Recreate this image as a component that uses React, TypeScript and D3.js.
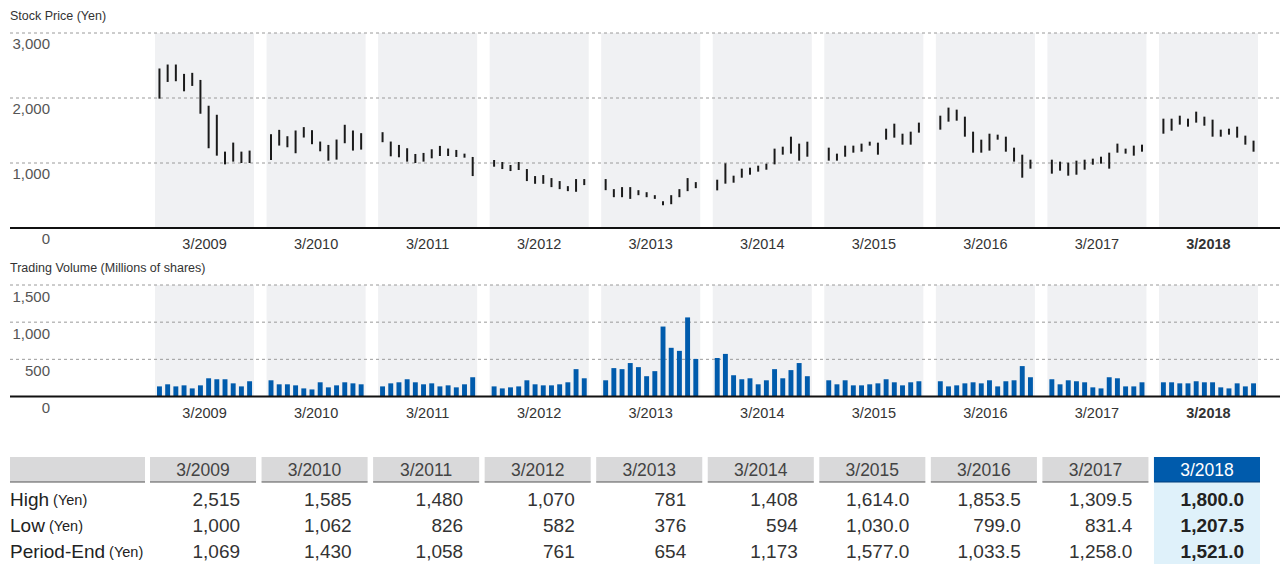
import React from "react";
import * as d3 from "d3";

const years = ["3/2009", "3/2010", "3/2011", "3/2012", "3/2013", "3/2014", "3/2015", "3/2016", "3/2017", "3/2018"];
const months = d3.range(12);

// Monthly high / low stock price (Yen), 12 per fiscal year
const priceHigh = [
  [2454, 2515, 2515, 2371, 2387, 2278, 1881, 1742, 1175, 1314, 1175, 1191],
  [1443, 1510, 1412, 1500, 1552, 1505, 1330, 1278, 1361, 1588, 1500, 1459],
  [1474, 1330, 1278, 1227, 1139, 1155, 1211, 1263, 1222, 1201, 1144, 1093],
  [1046, 1015, 969, 1015, 907, 799, 814, 768, 722, 644, 753, 753],
  [753, 598, 629, 629, 582, 551, 505, 412, 505, 598, 768, 706],
  [743, 995, 805, 913, 928, 959, 990, 1221, 1251, 1405, 1298, 1328],
  [1236, 1144, 1267, 1267, 1298, 1328, 1313, 1528, 1605, 1451, 1482, 1621],
  [1728, 1852, 1821, 1713, 1482, 1359, 1451, 1436, 1405, 1236, 1128, 1051],
  [1051, 1021, 1005, 1036, 1051, 1067, 1097, 1159, 1298, 1221, 1267, 1282],
  [1682, 1682, 1728, 1682, 1790, 1713, 1667, 1513, 1528, 1559, 1421, 1344],
];
const priceLow = [
  [1990, 2247, 2258, 2103, 2186, 1758, 1227, 1113, 979, 1021, 1000, 1000],
  [1046, 1268, 1242, 1150, 1392, 1289, 1180, 1036, 1052, 1304, 1191, 1206],
  [1320, 1103, 1088, 1021, 1000, 1021, 1072, 1108, 1108, 1093, 1082, 799],
  [943, 907, 876, 892, 722, 680, 680, 629, 598, 567, 557, 660],
  [582, 474, 474, 448, 505, 474, 448, 350, 366, 474, 567, 613],
  [579, 682, 697, 774, 820, 867, 897, 979, 1128, 1144, 1036, 1097],
  [1036, 1036, 1097, 1159, 1174, 1267, 1128, 1359, 1390, 1282, 1282, 1467],
  [1513, 1636, 1651, 1405, 1159, 1159, 1190, 1359, 1174, 1021, 774, 913],
  [836, 882, 805, 820, 897, 974, 990, 913, 1159, 1144, 1113, 1174],
  [1451, 1497, 1590, 1559, 1621, 1574, 1405, 1405, 1436, 1390, 1282, 1174],
];
// Monthly trading volume (millions of shares)
const volume = [
  [136, 164, 136, 150, 109, 150, 245, 232, 232, 177, 136, 205],
  [218, 164, 164, 150, 109, 95, 191, 123, 150, 191, 177, 164],
  [136, 177, 191, 232, 191, 164, 177, 136, 150, 123, 164, 259],
  [136, 109, 123, 136, 218, 164, 150, 150, 164, 191, 368, 245],
  [218, 382, 368, 450, 395, 273, 341, 941, 655, 614, 1064, 505],
  [518, 573, 286, 232, 245, 164, 218, 368, 245, 355, 450, 273],
  [218, 164, 218, 150, 150, 164, 177, 232, 191, 150, 191, 205],
  [205, 136, 150, 177, 191, 177, 218, 136, 205, 218, 409, 259],
  [232, 164, 218, 205, 191, 123, 109, 259, 245, 136, 136, 191],
  [191, 191, 177, 177, 205, 191, 191, 123, 109, 177, 136, 177],
];

const priceTicks = [0, 1000, 2000, 3000];
const volumeTicks = [0, 500, 1000, 1500];

const rowLabels = ["High", "Low", "Period-End"];
const tableHigh = ["2,515", "1,585", "1,480", "1,070", "781", "1,408", "1,614.0", "1,853.5", "1,309.5", "1,800.0"];
const tableLow = ["1,000", "1,062", "826", "582", "376", "594", "1,030.0", "799.0", "831.4", "1,207.5"];
const tableEnd = ["1,069", "1,430", "1,058", "761", "654", "1,173", "1,577.0", "1,033.5", "1,258.0", "1,521.0"];
const tableRows = [tableHigh, tableLow, tableEnd];

const FONT = "'Liberation Sans', Arial, Helvetica, sans-serif";
const BAND = "#f0f1f3";
const GRID = "#9a9a9a";
const BLUE = "#005bac";

export default function App() {
  const W = 1280, H = 564;
  const x = d3.scaleBand<string>().domain(years).range([155, 1258]).paddingInner(0.112).paddingOuter(0);
  const m = d3.scaleBand<number>().domain(months).range([2, x.bandwidth() - 2]).paddingInner(0.4).paddingOuter(0);

  const yP = d3.scaleLinear().domain([0, 3000]).range([228, 33]);
  const yV = d3.scaleLinear().domain([0, 1500]).range([396.5, 285]);

  const fmt = d3.format(",");
  const lastYear = years[years.length - 1];

  const panel = (
    y: d3.ScaleLinear<number, number>,
    ticks: number[],
    title: string,
    titleY: number,
    tickDy: number,
    content: React.ReactNode
  ) => {
    const top = y(ticks[ticks.length - 1]);
    const base = y(0);
    return (
      <g>
        <text x={10} y={titleY} fontSize={12.5} fill="#333" dominantBaseline="middle">{title}</text>
        {years.map((yr) => (
          <rect key={yr} x={x(yr)} y={top} width={x.bandwidth()} height={base - top} fill={BAND} />
        ))}
        {ticks.filter((t) => t > 0).map((t) => (
          <line key={t} x1={10} x2={1280} y1={y(t)} y2={y(t)} stroke={GRID} strokeWidth={1} strokeDasharray="3,3" />
        ))}
        {ticks.map((t) => (
          <text key={"l" + t} x={50} y={y(t) + tickDy} fontSize={15} fill="#555" textAnchor="end" dominantBaseline="middle">
            {fmt(t)}
          </text>
        ))}
        {content}
        <line x1={10} x2={1280} y1={base} y2={base} stroke="#111" strokeWidth={2} />
        {years.map((yr) => (
          <text
            key={"x" + yr}
            x={(x(yr) as number) + x.bandwidth() / 2}
            y={base + 17.5}
            fontSize={14.5}
            fill="#333"
            fontWeight={yr === lastYear ? "bold" : "normal"}
            textAnchor="middle"
            dominantBaseline="middle"
          >
            {yr}
          </text>
        ))}
      </g>
    );
  };

  const priceMarks = years.map((yr, i) =>
    months.map((mo) => {
      const cx = (x(yr) as number) + (m(mo) as number) + m.bandwidth() / 2;
      return (
        <line key={yr + mo} x1={cx} x2={cx} y1={yP(priceHigh[i][mo])} y2={yP(priceLow[i][mo])} stroke="#1a1a1a" strokeWidth={2} />
      );
    })
  );

  const volMarks = years.map((yr, i) =>
    months.map((mo) => (
      <rect
        key={yr + mo}
        x={(x(yr) as number) + (m(mo) as number)}
        y={yV(volume[i][mo])}
        width={m.bandwidth()}
        height={yV(0) - yV(volume[i][mo])}
        fill={BLUE}
      />
    ))
  );

  // Table
  const hTop = 457, hBot = 482;
  const rowY = [501, 527, 553];
  const boxL = (yr: string) => (x(yr) as number) - 5;
  const boxW = x.bandwidth() + 7;

  return (
    <svg width={W} height={H} style={{ position: "absolute", left: 0, top: 0, fontFamily: FONT }}>
      <rect width={W} height={H} fill="#fff" />
      {panel(yP, priceTicks, "Stock Price (Yen)", 17, 12, priceMarks)}
      {panel(yV, volumeTicks, "Trading Volume (Millions of shares)", 269, 13, volMarks)}

      {/* table */}
      <rect x={10} y={hTop} width={135} height={hBot - hTop} fill="#d9d9da" />
      <line x1={10} x2={145} y1={hBot} y2={hBot} stroke="#555" strokeWidth={1.2} />
      <rect x={boxL(lastYear)} y={hBot} width={boxW} height={H - hBot} fill="#dff1fa" />
      {years.map((yr) => {
        const last = yr === lastYear;
        return (
          <g key={"t" + yr}>
            <rect x={boxL(yr)} y={hTop} width={boxW} height={hBot - hTop} fill={last ? BLUE : "#d9d9da"} />
            <line x1={boxL(yr)} x2={boxL(yr) + boxW} y1={hBot} y2={hBot} stroke={last ? "#003f7a" : "#555"} strokeWidth={1.2} />
            <text
              x={boxL(yr) + boxW / 2}
              y={(hTop + hBot) / 2 + 1.5}
              fontSize={17.5}
              fill={last ? "#fff" : "#444"}
              textAnchor="middle"
              dominantBaseline="middle"
            >
              {yr}
            </text>
          </g>
        );
      })}
      {rowLabels.map((lab, r) => (
        <text key={lab} x={10} y={rowY[r]} fill="#222" dominantBaseline="middle">
          <tspan fontSize={19}>{lab}</tspan>
          <tspan fontSize={14.5}> (Yen)</tspan>
        </text>
      ))}
      {tableRows.map((row, r) =>
        row.map((v, i) => {
          const yr = years[i];
          const last = yr === lastYear;
          return (
            <text
              key={r + "-" + i}
              x={boxL(yr) + boxW - 16}
              y={rowY[r]}
              fontSize={19}
              fill={last ? "#222" : "#333"}
              fontWeight={last ? "bold" : "normal"}
              textAnchor="end"
              dominantBaseline="middle"
            >
              {v}
            </text>
          );
        })
      )}
    </svg>
  );
}
